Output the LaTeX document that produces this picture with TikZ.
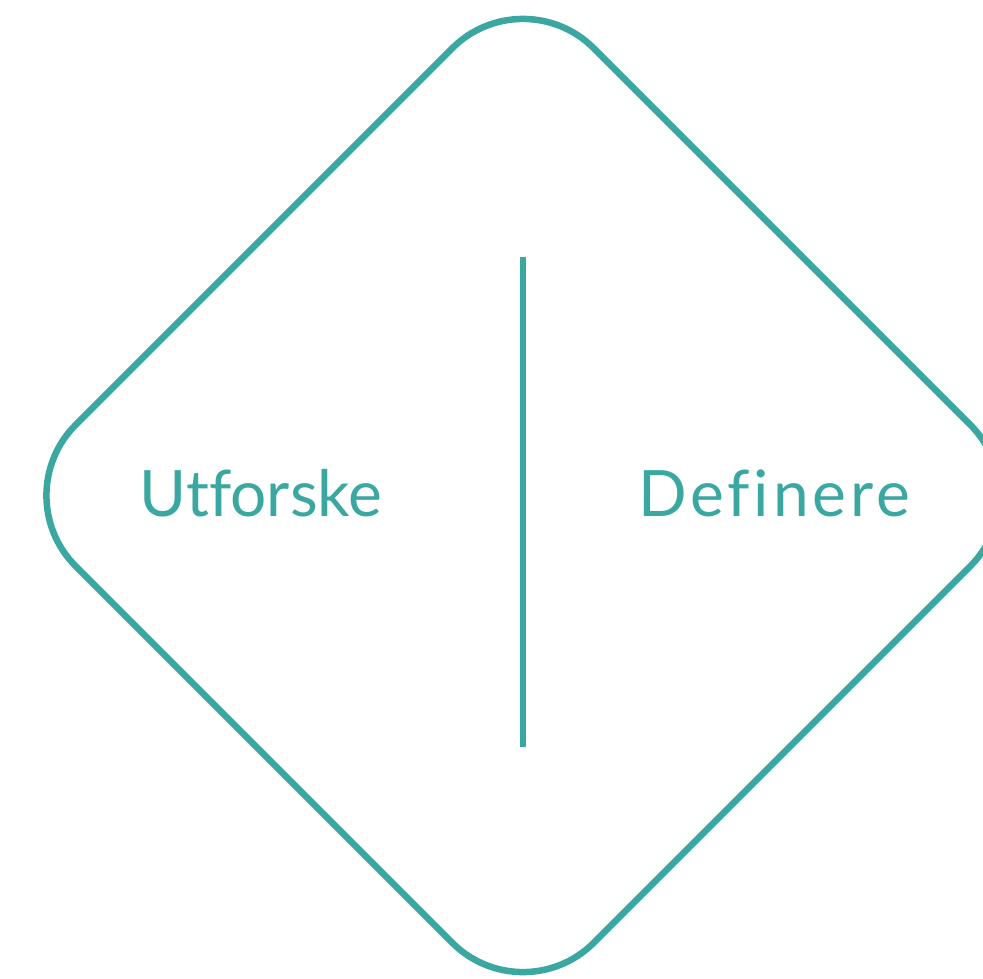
\documentclass[tikz,border=0pt]{standalone}
\usepackage{fontspec}
\setmainfont{Lato}[Ligatures=NoCommon]
\newfontfamily\widelato{Lato}[Ligatures=NoCommon,LetterSpace=6]
\definecolor{teal1}{RGB}{58,168,161}
\tikzset{
  outline/.style={draw=teal1, line width=6.5pt, rounded corners=100pt},
  divider/.style={draw=teal1, line width=6pt},
  label/.style={text=teal1, font=\fontsize{64}{70}\selectfont, anchor=base, inner sep=0pt}
}
\begin{document}
\begin{tikzpicture}[x=1pt,y=-1pt]
\clip (0,0) rectangle (983,979);
\fill[white] (0,0) rectangle (983,979);
\draw[outline] (523,-22.5) -- (1041,495.5) -- (523,1013.5) -- (5,495.5) -- cycle;
\coordinate (top) at (523,257);
\coordinate (bot) at (523,747);
\draw[divider] (top) -- (bot);
\node[label] (utf) at (261,516) {Utforske};
\node[label, font=\widelato\fontsize{64}{70}\selectfont] (def) at (774,516) {Definere};
\end{tikzpicture}
\end{document}
